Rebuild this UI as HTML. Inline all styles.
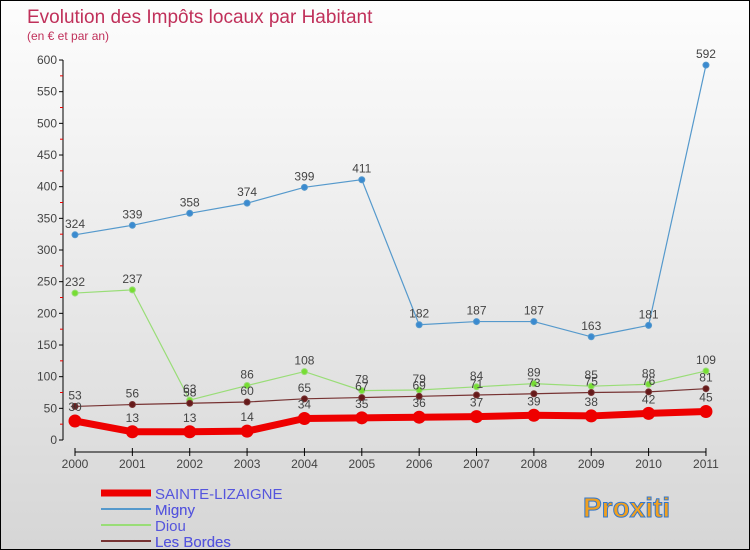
<!DOCTYPE html>
<html><head><meta charset="utf-8"><style>
body{margin:0}
#c{width:748px;height:548px;border:1px solid #000;background:linear-gradient(#fdfdfd,#d6d6d6);position:relative;font-family:"Liberation Sans",sans-serif;overflow:hidden}
</style></head><body>
<div id="c">
<svg id="s" width="748" height="548"></svg>
</div>
<script>
const years=["2000","2001","2002","2003","2004","2005","2006","2007","2008","2009","2010","2011"];
const migny=[324,339,358,374,399,411,182,187,187,163,181,592];
const diou=[232,237,63,86,108,78,79,84,89,85,88,109];
const bordes=[53,56,58,60,65,67,69,71,73,75,76,81];
const sainte=[30,13,13,14,34,35,36,37,39,38,42,45];
const yTicks=[0,50,100,150,200,250,300,350,400,450,500,550,600];
const NS="http://www.w3.org/2000/svg",s=document.getElementById('s');
const X=i=>74+i*57.36, Y=v=>439-v*0.6333;
function el(t,a,p){const e=document.createElementNS(NS,t);for(const k in a)e.setAttribute(k,a[k]);(p||s).appendChild(e);return e;}
function tx(x,y,str,o){const e=el('text',Object.assign({x:x,y:y,'font-size':12,fill:'#444'},o||{}));e.textContent=str;return e;}
let t=tx(26,22,"Evolution des Impôts locaux par Habitant",{'font-size':19,fill:'#c0305a'});

t=tx(26,39,"(en € et par an)",{'font-size':12,fill:'#c0305a'});

let ax=el('line',{x1:62,y1:Y(600),x2:62,y2:Y(0),stroke:'#000'});

yTicks.forEach(v=>{el('line',{x1:58,x2:62,y1:Y(v),y2:Y(v),stroke:'#000'});
 if(v<600)el('line',{x1:59,x2:62,y1:Y(v+25),y2:Y(v+25),stroke:'#e00'});
 const l=tx(56,Y(v)+4,String(v),{'text-anchor':'end','font-size':12});});
ax=el('line',{x1:X(0),y1:451,x2:X(11),y2:451,stroke:'#000'});

years.forEach((y,i)=>{el('line',{x1:X(i),x2:X(i),y1:447,y2:455,stroke:'#000'});
 const l=tx(X(i),467,y,{'text-anchor':'middle','font-size':12});});
function series(d,col,w,r,name,dot){
 const p=el('polyline',{points:d.map((v,i)=>X(i)+','+Y(v)).join(' '),fill:'none',stroke:col,'stroke-width':w});
 
 d.forEach((v,i)=>{const c=el('circle',{cx:X(i),cy:Y(v),r:r,fill:dot,stroke:col});
  
  const l=tx(X(i),Y(v)-(r+4),String(v),{'text-anchor':'middle','font-size':12});
  });
}
series(migny,'#5599cc',1.2,3,'migny','#3a8ad0');
series(diou,'#99dd77',1.2,3,'diou','#77dd33');
series(bordes,'#773333',1.2,3,'les-bordes','#661a1a');
series(sainte,'#ee0000',7,6,'sainte-lizaigne','#ee0000');
const legend=[["SAINTE-LIZAIGNE","#ee0000",7],["Migny","#5599cc",2],["Diou","#99dd77",2],["Les Bordes","#773333",2]];
legend.forEach((L,i)=>{const y=492+i*16;
 const g=el('g',{});
 el('line',{x1:100,x2:150,y1:y,y2:y,stroke:L[1],'stroke-width':L[2]},g);
 tx(154,y+6,L[0],{'font-size':15,fill:'#5555dd'}).remove&&g.appendChild(tx(154,y+6,L[0],{'font-size':15,fill:'#5555dd'}));
});
[...s.querySelectorAll('g text')].forEach((e,i)=>{if(i%2===0)e.remove();});
const lg=el('text',{x:582,y:516,'font-size':28,'font-weight':'bold',fill:'#f0a020',stroke:'#3377cc','stroke-width':1});
lg.textContent="Proxiti";
</script>
</body></html>
